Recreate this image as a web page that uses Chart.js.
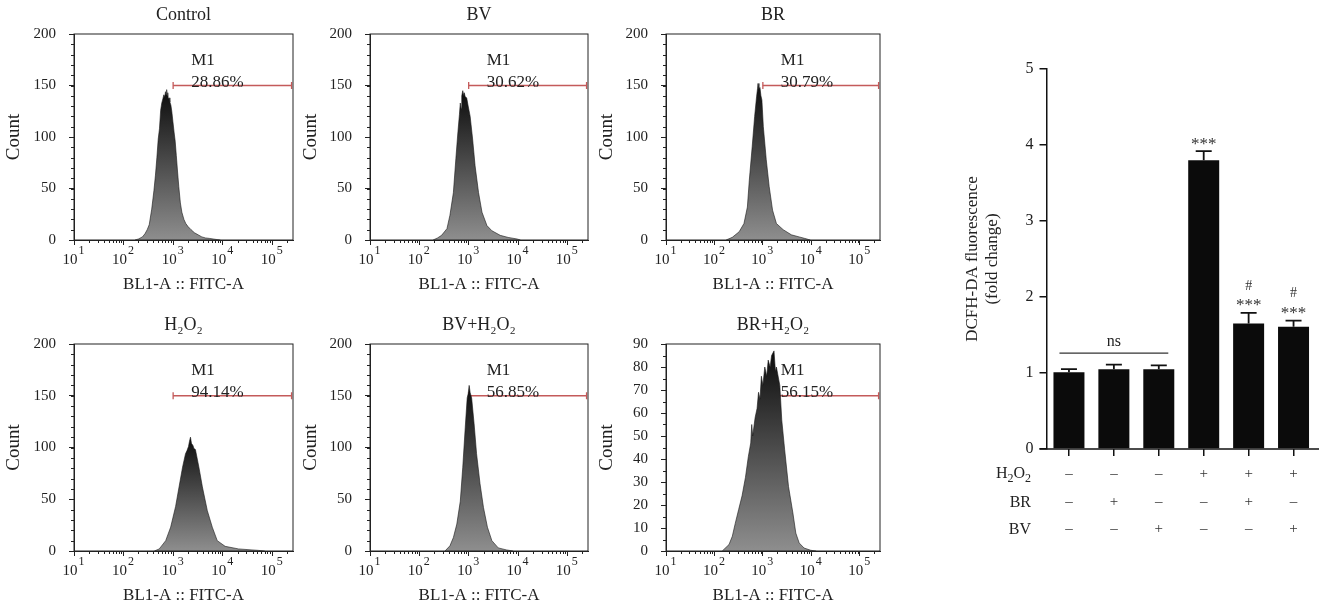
<!DOCTYPE html>
<html><head><meta charset="utf-8">
<script src="https://cdn.jsdelivr.net/npm/chart.js@4.4.1/dist/chart.umd.min.js"></script>
<style>
html,body{margin:0;padding:0;background:#fff;}
body{width:1327px;height:612px;position:relative;overflow:hidden;}
canvas{position:absolute;display:block;}
</style></head><body>
<canvas id="h0" width="300" height="298" style="left:0px;top:0px"></canvas>
<canvas id="h1" width="296" height="298" style="left:300px;top:0px"></canvas>
<canvas id="h2" width="296" height="298" style="left:596px;top:0px"></canvas>
<canvas id="h3" width="300" height="299" style="left:0px;top:310px"></canvas>
<canvas id="h4" width="296" height="299" style="left:300px;top:310px"></canvas>
<canvas id="h5" width="296" height="299" style="left:596px;top:310px"></canvas>
<canvas id="bar" width="387" height="572" style="left:940px;top:40px"></canvas>
<script>
const FONT = "'Liberation Serif','Times New Roman','DejaVu Serif',serif";
const TXT = '#222';

// ---------- histogram panels ----------
const xTickValues = [10, 100, 1000, 10000, 100000];
const xTickBase = '10';
const xTickExponents = ['1', '2', '3', '4', '5'];
const panelTitles = ['Control', 'BV', 'BR', 'H₂O₂', 'BV+H₂O₂', 'BR+H₂O₂'];
const gatePercents = ['28.86%', '30.62%', '30.79%', '94.14%', '56.85%', '56.15%'];
const gateLevels = [150, 150, 150, 150, 150, 67.5];
const gateFrom = 1000;
const gateTo = 245000;
const yMaxes = [200, 200, 200, 200, 200, 90];

const controlFITC = [170,200,240,270,300,330,370,410,440,470,500,530,560,590,620,650,680,700,720,740,760,780,800,830,860,900,940,990,1050,1100,1160,1230,1300,1400,1500,1650,1800,2000,2300,2700,3200,3800,4500,5500,7000,9000];
const controlCount = [0,1,3,6,10,15,30,48,63,80,98,108,126,133,137,141,139,144,141,146,140,143,137,138,134,131,125,115,104,96,82,66,52,36,27,20,16,13,10,7,5,3,2,1.5,0.7,0];

const bvFITC = [190,234,282,363,417,490,550,603,650,676,700,724,759,794,813,851,912,977,1072,1202,1349,1585,1862,2344,2951,4365,6310,9550,11220];
const bvCount = [0,2,4.5,11,24,46,79,104,122,133,128,140,145,140,143,139,138,130,120,98,72,46,27,14,9,4.5,2.5,1,0];

const brFITC = [174,234,324,407,479,525,603,676,741,776,794,832,871,912,955,1023,1175,1349,1585,1905,2630,3890,5623,7244,9550];
const brCount = [0,2.6,8,16,32,58,91,120,139,147,152,146,148,140,136,110,78,52,29,16,10,5,3,1.6,0];

const h2o2FITC = [417,525,708,891,1122,1318,1549,1778,1905,2042,2138,2239,2344,2512,2630,2818,3311,3890,4898,6166,7762,11220,20893,52481,70795];
const h2o2Count = [0,2,10,23,43,62,81,94,97,101,106,110,104,102,99,98,81,62,39,23,10,4.5,2,0.6,0];

const bvH2o2FITC = [331,417,490,575,676,759,851,933,977,1023,1072,1148,1288,1445,1698,1995,2399,2951,3981,5888,7943];
const bvH2o2Count = [0,5,13,26,48,81,119,148,152,160,153,148,123,94,65,42,23,10,3,1,0];

const brH2o2FITC = [145,200,234,269,316,372,437,501,562,589,617,692,759,813,871,933,1000,1096,1202,1288,1413,1514,1698,1820,1905,2239,2455,2818,3388,4169,4786,5623,7079,9772,12589];
const brH2o2Count = [0,2.8,6.4,12,18,24,32,41,47,55,50,58,62,69,66,76,72,80,76,83,80,85,87,78,80,72,57,44,28,16.5,7.8,3.5,1.3,0.3,0];

const panelFITC = [controlFITC, bvFITC, brFITC, h2o2FITC, bvH2o2FITC, brH2o2FITC];
const panelCount = [controlCount, bvCount, brCount, h2o2Count, bvH2o2Count, brH2o2Count];

// ---------- bar chart ----------
const groupNames = ['Control', 'BR', 'BV', 'H₂O₂', 'BR+H₂O₂', 'BV+H₂O₂'];
const h2o2Signs = ['–', '–', '–', '+', '+', '+'];
const brSigns = ['–', '+', '–', '–', '+', '–'];
const bvSigns = ['–', '–', '+', '–', '–', '+'];
const foldChange = [1.01, 1.05, 1.05, 3.80, 1.65, 1.61];
const foldSEM = [0.04, 0.06, 0.05, 0.12, 0.14, 0.08];
const starMarks = ['', '', '', '***', '***', '***'];
const hashMarks = ['', '', '', '', '#', '#'];
const yBarTicks = [0, 1, 2, 3, 4, 5];

const histPlugin = {
  id: 'histDeco',
  afterDraw(chart, args, o) {
    const {ctx, chartArea: ca, scales: {x, y}} = chart;
    ctx.save();
    ctx.strokeStyle = '#222';
    ctx.lineWidth = 1;
    ctx.strokeRect(ca.left, ca.top, ca.right - ca.left, ca.bottom - ca.top);
    ctx.beginPath();
    for (let e = 1; e <= 5; e++) {
      for (let k = 2; k <= 9; k++) {
        const v = k * Math.pow(10, e);
        if (v > x.max) break;
        const px = Math.round(x.getPixelForValue(v)) + 0.5;
        ctx.moveTo(px, ca.bottom);
        ctx.lineTo(px, ca.bottom + 3);
      }
    }
    for (let v = 0; v <= y.max; v += o.minorY) {
      const py = Math.round(y.getPixelForValue(v)) + 0.5;
      ctx.moveTo(ca.left, py);
      ctx.lineTo(ca.left - 3, py);
    }
    ctx.stroke();
    // x tick labels with real superscripts
    ctx.fillStyle = TXT;
    ctx.textAlign = 'left';
    ctx.textBaseline = 'alphabetic';
    const baseFont = '15px ' + FONT, supFont = '12px ' + FONT;
    xTickValues.forEach((v, k) => {
      const px = x.getPixelForValue(v);
      ctx.font = baseFont;
      const wb = ctx.measureText(xTickBase).width;
      ctx.font = supFont;
      const ws = ctx.measureText(xTickExponents[k]).width;
      const sx = px - (wb + ws) / 2 - 1;
      ctx.font = baseFont;
      ctx.fillText(xTickBase, sx, ca.bottom + 23.5);
      ctx.font = supFont;
      ctx.fillText(xTickExponents[k], sx + wb + 1, ca.bottom + 13.5);
    });
    // gate labels
    ctx.font = '17px ' + FONT;
    ctx.textBaseline = 'middle';
    const gx = x.getPixelForValue(gateFrom) + 18;
    const gy = y.getPixelForValue(o.level);
    ctx.fillText('M1', gx, gy - 25);
    ctx.fillText(o.pct, gx, gy - 3);
    ctx.restore();
  }
};

const colLayout = [
  {yw: 74, pr: 7, tp: 3},
  {yw: 70, pr: 8, tp: 0},
  {yw: 70, pr: 12, tp: 0}
];

for (let i = 0; i < 6; i++) {
  const col = colLayout[i % 3];
  const fitc = panelFITC[i], cnt = panelCount[i];
  const peak = Math.max(...cnt);
  const yMax = yMaxes[i];
  new Chart(document.getElementById('h' + i), {
    type: 'line',
    data: {
      datasets: [
        {
          data: fitc.map((v, k) => ({x: v, y: cnt[k]})),
          fill: 'origin',
          borderWidth: 0.6,
          borderColor: '#151515',
          pointRadius: 0,
          tension: 0,
          backgroundColor: (c) => {
            const ch = c.chart, ca = ch.chartArea;
            if (!ca) return '#444';
            const yTop = ch.scales.y.getPixelForValue(peak);
            const g = ch.ctx.createLinearGradient(0, yTop, 0, ca.bottom);
            g.addColorStop(0, '#0c0c0c');
            g.addColorStop(1, '#8e8e8e');
            return g;
          }
        },
        {
          data: [{x: gateFrom, y: gateLevels[i]}, {x: gateTo, y: gateLevels[i]}],
          borderColor: '#c45a5a',
          borderWidth: 1.3,
          pointStyle: 'line',
          rotation: 90,
          pointRadius: 3.5,
          pointBorderColor: '#c45a5a',
          pointBorderWidth: 1.3,
          fill: false
        }
      ]
    },
    options: {
      responsive: false,
      animation: false,
      events: [],
      layout: {padding: {left: 0, right: col.pr, top: 0, bottom: 0}},
      plugins: {
        legend: {display: false},
        tooltip: {enabled: false},
        title: {display: true, fullSize: false, text: panelTitles[i], color: TXT,
          font: {family: FONT, size: 18, weight: 'normal'}, padding: {top: 4, bottom: 8.4}},
        histDeco: {level: gateLevels[i], pct: gatePercents[i], minorY: yMax === 90 ? 5 : 10}
      },
      scales: {
        x: {
          type: 'logarithmic', min: 10, max: 262144,
          afterBuildTicks: (s) => { s.ticks = xTickValues.map(v => ({value: v})); },
          ticks: {display: false},
          grid: {display: true, drawOnChartArea: false, drawTicks: true, tickLength: 5, color: '#222'},
          border: {display: true, color: '#222', width: 1},
          title: {display: true, text: 'BL1-A :: FITC-A', color: TXT,
            font: {family: FONT, size: 17}, padding: {top: 0, bottom: 3}},
          afterFit: (s) => { s.height = 58; }
        },
        y: {
          min: 0, max: yMax,
          ticks: {stepSize: yMax === 90 ? 10 : 50, color: TXT, font: {family: FONT, size: 15}, padding: 13},
          grid: {display: true, drawOnChartArea: false, drawTicks: true, tickLength: 5, color: '#222'},
          border: {display: true, color: '#222', width: 1},
          title: {display: true, text: 'Count', color: TXT,
            font: {family: FONT, size: 19}, padding: {top: col.tp, bottom: 0}},
          afterFit: (s) => { s.width = col.yw; }
        }
      }
    },
    plugins: [histPlugin]
  });
}

// ---------- bar chart ----------
const barPlugin = {
  id: 'barDeco',
  afterDraw(chart) {
    const {ctx, chartArea: ca, scales: {x, y}} = chart;
    ctx.save();
    ctx.strokeStyle = '#111';
    ctx.lineWidth = 1.5;
    ctx.beginPath();
    ctx.moveTo(ca.left - 7, ca.bottom);
    ctx.lineTo(ca.right + 3, ca.bottom);
    ctx.stroke();
    // error bars and marks
    ctx.lineWidth = 1.8;
    ctx.fillStyle = '#333';
    ctx.textAlign = 'center';
    ctx.textBaseline = 'middle';
    foldChange.forEach((v, i) => {
      const cx = x.getPixelForValue(i);
      const b = y.getPixelForValue(v);
      const t = y.getPixelForValue(v + foldSEM[i]);
      ctx.beginPath();
      ctx.moveTo(cx, b); ctx.lineTo(cx, t);
      ctx.moveTo(cx - 8, t); ctx.lineTo(cx + 8, t);
      ctx.stroke();
      ctx.font = '17px ' + FONT;
      if (starMarks[i]) ctx.fillText(starMarks[i], cx, t - 7);
      ctx.font = '14px ' + FONT;
      if (hashMarks[i]) ctx.fillText(hashMarks[i], cx, t - 27);
    });
    // ns bracket
    let top3 = 0;
    for (let i = 0; i < 3; i++) top3 = Math.max(top3, foldChange[i] + foldSEM[i]);
    const ly = y.getPixelForValue(top3) - 11.5;
    const x0 = x.getPixelForValue(0), x2 = x.getPixelForValue(2);
    ctx.strokeStyle = '#333';
    ctx.lineWidth = 1.4;
    ctx.beginPath();
    ctx.moveTo(x0 - 9.5, ly); ctx.lineTo(x2 + 9.5, ly);
    ctx.stroke();
    ctx.fillStyle = TXT;
    ctx.font = '16px ' + FONT;
    ctx.fillText('ns', x.getPixelForValue(1), ly - 11);
    // treatment table
    const rows = [h2o2Signs, brSigns, bvSigns];
    const rowY = [ca.bottom + 25, ca.bottom + 53.5, ca.bottom + 80.5];
    ctx.font = '15px ' + FONT;
    ctx.fillStyle = '#333';
    rows.forEach((r, k) => {
      r.forEach((s, i) => ctx.fillText(s, x.getPixelForValue(i), rowY[k]));
    });
    const hx = ca.left - 15.5;
    ctx.fillStyle = TXT;
    ctx.textAlign = 'right';
    ctx.font = '16px ' + FONT;
    ctx.fillText('BR', hx, rowY[1]);
    ctx.fillText('BV', hx, rowY[2]);
    // H2O2 with subscripts
    const big = '16px ' + FONT, small = '12px ' + FONT;
    const parts = [['H', big, 0], ['2', small, 5], ['O', big, 0], ['2', small, 5]];
    let w = 0;
    parts.forEach(p => { ctx.font = p[1]; w += ctx.measureText(p[0]).width; });
    let px = hx - w;
    ctx.textAlign = 'left';
    parts.forEach(p => { ctx.font = p[1]; ctx.fillText(p[0], px, rowY[0] + p[2]); px += ctx.measureText(p[0]).width; });
    ctx.restore();
  }
};

new Chart(document.getElementById('bar'), {
  type: 'bar',
  data: {
    labels: groupNames,
    datasets: [{data: foldChange, backgroundColor: '#0b0b0b', borderWidth: 0, barPercentage: 0.69, categoryPercentage: 1}]
  },
  options: {
    responsive: false,
    animation: false,
    events: [],
    layout: {padding: {left: 0, right: 11, top: 29, bottom: 0}},
    plugins: {legend: {display: false}, tooltip: {enabled: false}, title: {display: false}},
    scales: {
      x: {
        grid: {display: true, drawOnChartArea: false, offset: false, drawTicks: true, tickLength: 7, color: '#111', lineWidth: 1.5},
        ticks: {display: false},
        border: {display: false},
        afterFit: (s) => { s.height = 163; }
      },
      y: {
        min: 0, max: 5,
        afterBuildTicks: (s) => { s.ticks = yBarTicks.map(v => ({value: v})); },
        ticks: {color: TXT, font: {family: FONT, size: 16}, padding: 6},
        grid: {display: true, drawOnChartArea: false, drawTicks: true, tickLength: 7, color: '#111', lineWidth: 1.5},
        border: {display: true, color: '#111', width: 1.5},
        title: {display: true, text: ['DCFH-DA fluorescence', '(fold change)'], color: TXT,
          font: {family: FONT, size: 17, lineHeight: 20 / 17}, padding: {top: 23, bottom: 0}},
        afterFit: (s) => { s.width = 106.5; }
      }
    }
  },
  plugins: [barPlugin]
});
</script>
</body></html>
